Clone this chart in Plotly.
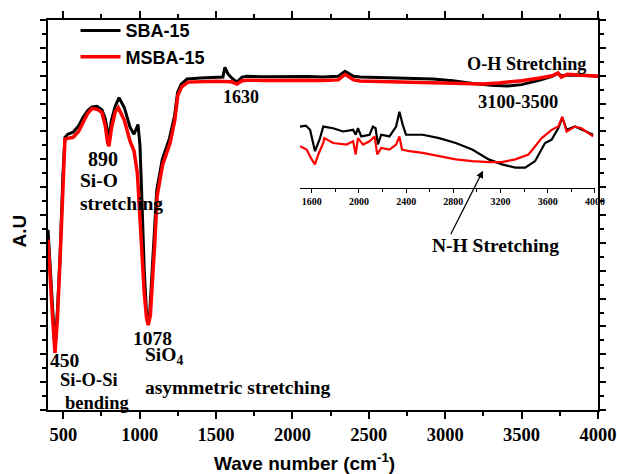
import plotly.graph_objects as go

# ---------------- main spectrum data ----------------
sba_wn = [400, 415, 430, 446, 462, 479, 498, 511, 530, 564, 600, 629, 660, 688, 720, 753, 775, 790, 799,
          815, 840, 865, 900, 937, 963, 989, 1002, 1015, 1030, 1045, 1054, 1065, 1080, 1098, 1112, 1148,
          1195, 1228, 1248, 1272, 1310, 1400, 1500, 1545, 1558, 1580, 1604, 1637, 1670, 1702, 1800, 1900,
          1984, 2100, 2200, 2300, 2344, 2400, 2442, 2600, 2800, 2920, 3050, 3182, 3300, 3404, 3500, 3620,
          3700, 3738, 3760, 3800, 3900, 4000]
sba_ab = [6.47, 5.0, 3.6, 2.19, 3.6, 5.55, 8.48, 9.79, 9.9, 9.97, 10.2, 10.5, 10.75, 10.88, 10.9, 10.78, 10.45,
          9.95, 9.72, 10.4, 10.9, 11.21, 10.85, 10.15, 9.9, 10.25, 9.5, 7.5, 5.0, 3.5, 3.11, 3.4, 4.8, 6.4,
          7.9, 9.0, 9.75, 10.55, 11.4, 11.7, 11.88, 11.92, 11.95, 11.95, 12.3, 12.05, 11.91, 11.77, 11.95,
          11.98, 11.96, 11.97, 11.96, 11.97, 11.95, 11.98, 12.16, 11.98, 11.95, 11.93, 11.9, 11.88, 11.82,
          11.72, 11.66, 11.63, 11.68, 11.84, 11.98, 12.08, 12.0, 12.02, 12.02, 11.98]

msba_wn = [400, 415, 430, 446, 462, 479, 498, 511, 530, 564, 600, 629, 660, 688, 720, 753, 775, 790, 799,
           815, 840, 860, 900, 937, 963, 985, 1000, 1015, 1030, 1045, 1056, 1070, 1085, 1100, 1115, 1150,
           1200, 1230, 1250, 1275, 1316, 1400, 1500, 1600, 1637, 1670, 1702, 1800, 1900, 1984, 2100, 2200,
           2300, 2344, 2400, 2442, 2600, 2800, 3000, 3150, 3247, 3350, 3500, 3620, 3700, 3738, 3760, 3800,
           3900, 4000]
msba_ab = [6.12, 4.6, 3.3, 2.05, 3.3, 5.4, 8.3, 9.72, 9.75, 9.79, 10.0, 10.35, 10.65, 10.82, 10.8, 10.68, 10.2,
           9.6, 9.47, 10.1, 10.7, 10.85, 10.4, 9.65, 9.3, 8.5, 7.0, 5.5, 4.2, 3.3, 3.05, 3.4, 4.6, 6.1, 7.7,
           8.8, 9.6, 10.4, 11.3, 11.6, 11.77, 11.78, 11.8, 11.78, 11.7, 11.82, 11.84, 11.83, 11.84, 11.84,
           11.84, 11.83, 11.85, 12.05, 11.85, 11.81, 11.79, 11.76, 11.72, 11.70, 11.70, 11.74, 11.82, 11.92,
           12.0, 12.1, 11.95, 12.05, 12.02, 11.98]

# ---------------- inset data (zoom of 1500-4000 region) ----------------
ins_sba_wn = [1501, 1550, 1586, 1628, 1670, 1698, 1782, 1866, 1951, 1973, 1992, 2020, 2090, 2119, 2141, 2161,
              2189, 2259, 2315, 2343, 2371, 2399, 2540, 2680, 2820, 2960, 3100, 3212, 3325, 3409, 3493, 3577,
              3633, 3689, 3723, 3760, 3830, 3886, 3984]
ins_sba_ab = [62, 63, 58.7, 37, 50, 62, 60.3, 57, 58.7, 53.7, 60.3, 52, 53.7, 62, 60.3, 44, 53.7, 52, 62, 77,
              64, 53.7, 53.7, 50.3, 45.3, 38.7, 28.7, 23.7, 20.3, 20.3, 27, 45.3, 48.7, 60.3, 71, 58.7, 62,
              58.7, 53.7]
ins_msba_wn = [1501, 1557, 1600, 1628, 1656, 1698, 1707, 1782, 1894, 1951, 1973, 1992, 2035, 2090, 2133, 2155,
               2189, 2259, 2315, 2343, 2365, 2427, 2540, 2680, 2820, 2960, 3100, 3212, 3325, 3437, 3549, 3633,
               3689, 3723, 3760, 3830, 3886, 3984]
ins_msba_ab = [42, 38.7, 28.7, 23.7, 33.7, 45.3, 50.3, 45.3, 43.7, 47, 33.7, 50.3, 43.7, 47, 52, 33.7, 40.3,
               38.7, 43.7, 52, 38.7, 37, 35.3, 32, 28.7, 27, 26, 26, 28.7, 33.7, 50.3, 58.7, 62, 72, 57, 62,
               60.3, 52]

series_names = ["SBA-15", "MSBA-15"]
series_colors = ["#000000", "#ff0000"]

SERIF = "Liberation Serif"
SANS = "Liberation Sans"

fig = go.Figure()
fig.add_trace(go.Scatter(x=sba_wn, y=sba_ab, mode="lines", name=series_names[0],
                         line=dict(color=series_colors[0], width=3)))
fig.add_trace(go.Scatter(x=msba_wn, y=msba_ab, mode="lines", name=series_names[1],
                         line=dict(color=series_colors[1], width=3.5)))
fig.add_trace(go.Scatter(x=ins_sba_wn, y=ins_sba_ab, mode="lines", showlegend=False,
                         xaxis="x2", yaxis="y2", line=dict(color=series_colors[0], width=2.2)))
fig.add_trace(go.Scatter(x=ins_msba_wn, y=ins_msba_ab, mode="lines", showlegend=False,
                         xaxis="x2", yaxis="y2", line=dict(color=series_colors[1], width=2.2)))

axis_common = dict(showline=True, linecolor="black", linewidth=2, mirror="allticks", automargin=False,
                   ticks="outside", tickcolor="black", tickwidth=1.5, showgrid=False, zeroline=False)

fig.update_layout(
    width=617, height=474,
    margin=dict(l=48, r=19, t=14, b=64),
    paper_bgcolor="white", plot_bgcolor="white",
    xaxis=dict(range=[400, 4000], tick0=0, dtick=500, ticklen=7,
               minor=dict(dtick=250, ticklen=4, ticks="outside", tickcolor="black"),
               tickfont=dict(family=SERIF, size=18.5, color="black", weight="bold"),
               **axis_common),
    yaxis=dict(range=[0, 14], tick0=0, dtick=1, ticklen=6, showticklabels=False,
               minor=dict(dtick=0.5, ticklen=4, ticks="outside", tickcolor="black"),
               **axis_common),
    xaxis2=dict(domain=[0.458, 0.9945], anchor="y2", range=[1500, 4000], tick0=1600, dtick=400,
                showline=True, linecolor="black", linewidth=1.2, ticks="outside", ticklen=4,
                tickwidth=1, tickcolor="black", showgrid=False, zeroline=False, automargin=False,
                minor=dict(dtick=200, ticklen=3, ticks="outside", tickcolor="black"),
                tickfont=dict(family=SERIF, size=10, color="black", weight="bold")),
    yaxis2=dict(domain=[0.57, 0.79], anchor="x2", range=[0, 87], visible=False),
    showlegend=True,
    legend=dict(x=0.05, y=1.02, xanchor="left", yanchor="top", bgcolor="rgba(0,0,0,0)",
                font=dict(family=SANS, size=18, color="black", weight="bold"),
                itemwidth=40, tracegroupgap=0),
)

def txt(x, y, s, xanchor="center", size=18, fam=SERIF, xref="x", yref="y", angle=0):
    fig.add_annotation(x=x, y=y, xref=xref, yref=yref, text=s, showarrow=False,
                       xanchor=xanchor, yanchor="middle", textangle=angle,
                       font=dict(family=fam, size=size, color="black", weight="bold"))

txt(1663, 11.24, "1630", size=18)
txt(760, 9.01, "890", size=20)
txt(596, 8.24, "Si-O", xanchor="left", size=19.5)
txt(596, 7.42, "stretching", xanchor="left", size=19.5)
txt(400, 1.77, "450", xanchor="left", size=19.5)
txt(465, 1.06, "Si-O-Si", xanchor="left", size=18.5)
txt(498, 0.25, "bending", xanchor="left", size=18.5)
txt(1087, 2.55, "1078", size=19.5)
txt(1022, 1.94, "SiO<sub>4</sub>", xanchor="left", size=19.5)
txt(1022, 0.81, "asymmetric stretching", xanchor="left", size=19.5)
txt(3129, 12.41, "O-H Stretching", xanchor="left", size=18.2)
txt(3476, 11.06, "3100-3500", size=18.5)
txt(3332, 5.90, "N-H Stretching", size=19.5)
txt(-0.051, 0.46, "A.U", fam=SANS, xref="paper", yref="paper", angle=-90, size=19)
txt(0.4655, -0.134, "Wave number (cm<sup>-1</sup>)", fam=SANS, xref="paper", yref="paper", size=19)

fig.add_annotation(x=3247, y=8.59, xref="x", yref="y", ax=-33, ay=65, axref="pixel", ayref="pixel",
                   text="", showarrow=True, arrowhead=2, arrowsize=1.2, arrowwidth=1.2, arrowcolor="black")

fig.write_html("out.html", config={"displayModeBar": False},
               post_script="document.body.style.margin='0';document.body.style.overflow='hidden';")
